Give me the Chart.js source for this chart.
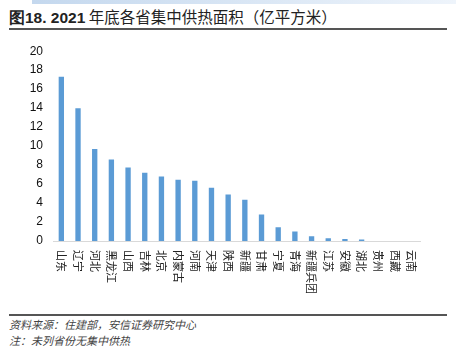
<!DOCTYPE html>
<html>
<head>
<meta charset="utf-8">
<script src="https://cdn.jsdelivr.net/npm/chart.js@4"></script>
<style>
  body { margin: 0; width: 456px; height: 354px; background: #fff; position: relative; overflow: hidden;
         font-family: "Noto Sans CJK SC", "Liberation Sans", sans-serif; }
  .band { position: absolute; left: 32px; top: 0; width: 424px; height: 4px;
          background: linear-gradient(to right, #c4d8ee, #eef4fb); }
  .title { position: absolute; left: 9px; top: 5px; font-size: 15.5px; color: #222; white-space: nowrap; }
  .title b { font-family: "Liberation Sans", sans-serif; }
  .rule { position: absolute; left: 9px; width: 438px; height: 2px; background: #555; }
  .note { position: absolute; left: 9px; font-size: 11px; color: #444; font-style: italic; white-space: nowrap; }
  #wrap { position: absolute; left: 0; top: 34px; width: 456px; height: 270px; }
</style>
</head>
<body>
<div class="band"></div>
<div class="title"><b>图18. 2021</b> 年底各省集中供热面积（亿平方米）</div>
<div class="rule" style="top:28px"></div>
<div id="wrap"><canvas id="chart"></canvas></div>
<div class="rule" style="top:314px"></div>
<div class="note" style="top:316px">资料来源：住建部，安信证券研究中心</div>
<div class="note" style="top:332px">注：未列省份无集中供热</div>
<script>
const provinces = ['山东', '辽宁', '河北', '黑龙江', '山西', '吉林', '北京', '内蒙古', '河南', '天津', '陕西',
  '新疆', '甘肃', '宁夏', '青海', '新疆兵团', '江苏', '安徽', '湖北', '贵州', '西藏', '云南'];
const heatingArea = [17.3, 14.0, 9.7, 8.6, 7.75, 7.2, 6.8, 6.45, 6.35, 5.6, 4.9,
  4.35, 2.8, 1.45, 1.0, 0.5, 0.28, 0.22, 0.17, 0, 0, 0];
const yTicks = [0, 2, 4, 6, 8, 10, 12, 14, 16, 18, 20];

// draw category labels rotated clockwise, reading top to bottom
const verticalLabels = {
  id: 'verticalLabels',
  afterDraw(chart) {
    const { ctx, chartArea } = chart;
    const xs = chart.scales.x;
    ctx.save();
    ctx.font = "11px 'Noto Sans CJK SC', sans-serif";
    ctx.fillStyle = '#222';
    ctx.textAlign = 'left';
    ctx.textBaseline = 'middle';
    provinces.forEach((p, i) => {
      ctx.save();
      ctx.translate(xs.getPixelForTick(i), chartArea.bottom + 9);
      ctx.rotate(Math.PI / 2);
      ctx.fillText(p, 0, 0);
      ctx.restore();
    });
    ctx.restore();
  }
};

new Chart(document.getElementById('chart'), {
  type: 'bar',
  data: {
    labels: provinces,
    datasets: [{
      data: heatingArea,
      backgroundColor: '#5b9bd5',
      barPercentage: 0.32,
      categoryPercentage: 1
    }]
  },
  options: {
    responsive: true,
    maintainAspectRatio: false,
    animation: false,
    layout: { padding: { top: 14, right: 36, left: 0, bottom: 0 } },
    plugins: { legend: { display: false }, tooltip: { enabled: false } },
    scales: {
      x: {
        grid: { display: false, drawTicks: false },
        border: { color: '#d9d9d9', width: 1 },
        ticks: { display: false },
        afterFit(scale) { scale.height = 63; }
      },
      y: {
        min: 0,
        max: 20,
        afterBuildTicks(scale) { scale.ticks = yTicks.map(v => ({ value: v })); },
        grid: { display: false, drawTicks: false },
        border: { display: false },
        ticks: {
          color: '#111',
          padding: 10,
          font: { family: "'Liberation Sans', Arial, sans-serif", size: 12 }
        },
        afterFit(scale) { scale.width = 53; }
      }
    }
  },
  plugins: [verticalLabels]
});
</script>
</body>
</html>
